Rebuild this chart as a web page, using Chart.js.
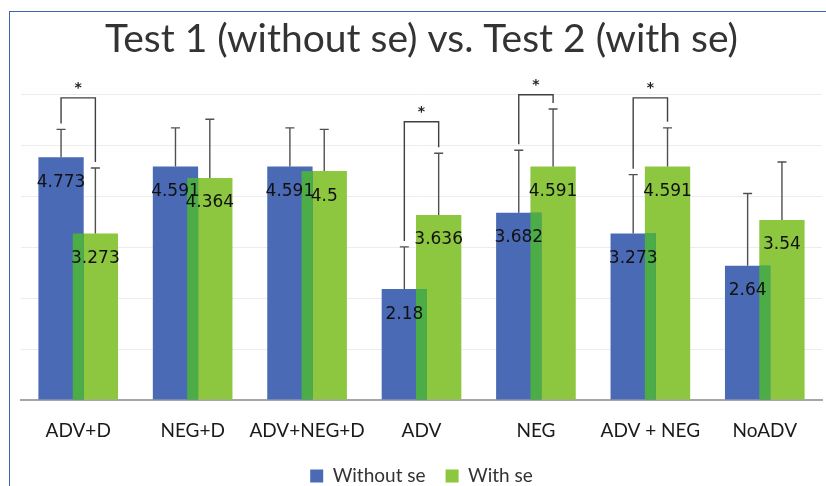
<!DOCTYPE html>
<html lang="en">
<head>
  <meta charset="UTF-8" />
  <title>Test 1 vs. Test 2</title>
  <script src="https://cdn.jsdelivr.net/npm/chart.js"></script>
  <style>
    html, body {
      margin: 0;
      padding: 0;
      background: #ffffff;
      overflow: hidden;
    }
    .frame {
      position: absolute;
      left: 9px;
      top: 11px;
      width: 830px;
      height: 490px;
      border-left: 1.5px solid #3f63b3;
      border-top: 1.5px solid #3f63b3;
    }
    .wrap {
      position: absolute;
      left: 0;
      top: 0;
      width: 826px;
      height: 486px;
    }
  </style>
</head>
<body>
  <div class="frame"></div>
  <div class="wrap">
    <canvas id="chart" width="826" height="486"></canvas>
  </div>

  <script>
    // data
    const categories = ["ADV+D", "NEG+D", "ADV+NEG+D", "ADV", "NEG", "ADV + NEG", "NoADV"];
    const withoutSe = [4.773, 4.591, 4.591, 2.18, 3.682, 3.273, 2.64];
    const withSe = [3.273, 4.364, 4.5, 3.636, 4.591, 4.591, 3.54];
    // top of the error bars
    const withoutSeErr = [5.32, 5.35, 5.35, 3.01, 4.91, 4.43, 4.06];
    const withSeErr = [4.56, 5.52, 5.32, 4.85, 5.72, 5.35, 4.68];
    // significance brackets: category index and height of the bracket
    const sigIndex = [0, 3, 4, 5];
    const sigLevel = [5.94, 5.47, 6.0, 5.94];
    const yTicks = [0, 1, 2, 3, 4, 5, 6];

    const BLUE = "#4a6ab5";
    const GREEN = "#8dc63f";
    const OVERLAP = "#4cad47";

    // darker strip where the two bars overlap, error bars, labels, brackets
    const extras = {
      id: "extras",
      afterDatasetsDraw(chart) {
        const ctx = chart.ctx;
        const y = chart.scales.y;
        const m0 = chart.getDatasetMeta(0).data;
        const m1 = chart.getDatasetMeta(1).data;

        ctx.save();
        // overlap strip
        m0.forEach((b, i) => {
          const g = m1[i];
          const left = g.x - g.width / 2;
          const right = b.x + b.width / 2;
          const top = Math.max(b.y, g.y);
          if (right > left) {
            ctx.fillStyle = OVERLAP;
            ctx.fillRect(left, top, right - left, b.base - top);
          }
        });

        // error bars (upper only)
        ctx.strokeStyle = "#505050";
        ctx.lineWidth = 1.4;
        const whisker = (el, v) => {
          const yt = y.getPixelForValue(v);
          ctx.beginPath();
          ctx.moveTo(el.x, el.y);
          ctx.lineTo(el.x, yt);
          ctx.moveTo(el.x - 4.5, yt);
          ctx.lineTo(el.x + 4.5, yt);
          ctx.stroke();
        };
        m0.forEach((el, i) => whisker(el, withoutSeErr[i]));
        m1.forEach((el, i) => whisker(el, withSeErr[i]));

        // value labels
        ctx.fillStyle = "#111111";
        ctx.font = "17px 'DejaVu Sans'";
        ctx.textAlign = "center";
        ctx.textBaseline = "middle";
        m0.forEach((el, i) => ctx.fillText(String(withoutSe[i]), el.x, el.y + 25));
        m1.forEach((el, i) => ctx.fillText(String(withSe[i]), el.x, el.y + 25));

        // significance brackets
        ctx.strokeStyle = "#404040";
        ctx.lineWidth = 1.4;
        sigIndex.forEach((idx, k) => {
          const a = m0[idx], b = m1[idx];
          const top = y.getPixelForValue(sigLevel[k]);
          const la = y.getPixelForValue(withoutSeErr[idx]) - 6;
          const lb = y.getPixelForValue(withSeErr[idx]) - 6;
          ctx.beginPath();
          ctx.moveTo(a.x, la);
          ctx.lineTo(a.x, top);
          ctx.lineTo(b.x, top);
          ctx.lineTo(b.x, lb);
          ctx.stroke();
          ctx.fillStyle = "#222";
          ctx.font = "bold 14px 'DejaVu Sans'";
          ctx.fillText("*", (a.x + b.x) / 2, top - 9);
        });
        ctx.restore();
      }
    };

    new Chart(document.getElementById("chart"), {
      type: "bar",
      data: {
        labels: categories,
        datasets: [
          { label: "Without se", data: withoutSe, backgroundColor: BLUE },
          { label: "With se", data: withSe, backgroundColor: GREEN }
        ]
      },
      options: {
        responsive: false,
        animation: false,
        categoryPercentage: 0.6,
        barPercentage: 1.32,
        layout: { padding: { left: 21, right: 4, top: 0, bottom: -9.5 } },
        plugins: {
          title: {
            display: true,
            text: "Test 1 (without se) vs. Test 2 (with se)",
            color: "#333333",
            font: { family: "Lato", size: 39, weight: "normal" },
            padding: { top: 16, bottom: 32 }
          },
          legend: {
            position: "bottom",
            labels: {
              boxWidth: 13,
              boxHeight: 13,
              color: "#333333",
              font: { family: "Lato", size: 19, lineHeight: 1 },
              padding: 20
            }
          },
          tooltip: { enabled: false }
        },
        scales: {
          x: {
            grid: { display: false },
            border: { color: "#a6a6a6", width: 2 },
            afterFit: axis => { axis.height = 46.5; },
            ticks: {
              color: "#1a1a1a",
              font: { family: "Lato", size: 19 },
              padding: 11,
              maxRotation: 0,
              minRotation: 0,
              autoSkip: false
            }
          },
          y: {
            min: 0,
            max: 6,
            afterBuildTicks: axis => { axis.ticks = yTicks.map(v => ({ value: v })); },
            ticks: { display: false },
            border: { display: false },
            grid: { color: "#ececec", drawTicks: false }
          }
        }
      },
      plugins: [extras]
    });
  </script>
</body>
</html>
